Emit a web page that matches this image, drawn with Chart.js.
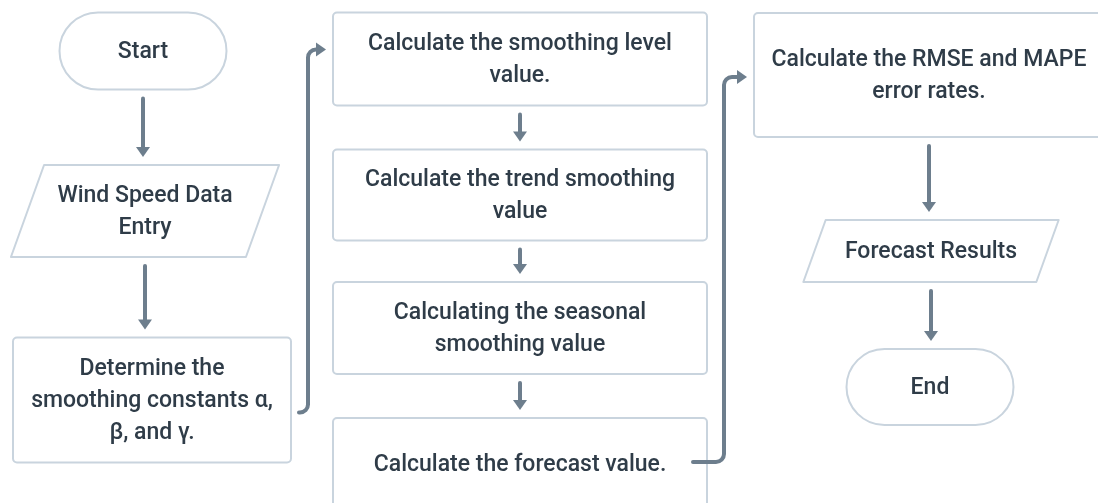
<!DOCTYPE html>
<html>
<head>
<meta charset="utf-8">
<script src="https://cdn.jsdelivr.net/npm/chart.js@4.4.1/dist/chart.umd.min.js"></script>
<style>
  html, body { margin: 0; padding: 0; background: #ffffff; }
  #flow { display: block; }
</style>
</head>
<body>
<canvas id="flow" width="1098" height="503"></canvas>
<script>
// flowchart steps
var nodeText = [
  ["Start"],
  ["Wind Speed Data", "Entry"],
  ["Determine the", "smoothing constants α,", "β, and γ."],
  ["Calculate the smoothing level", "value."],
  ["Calculate the trend smoothing", "value"],
  ["Calculating the seasonal", "smoothing value"],
  ["Calculate the forecast value."],
  ["Calculate the RMSE and MAPE", "error rates."],
  ["Forecast Results"],
  ["End"]
];
var nodeShape = ["terminal", "io", "process", "process", "process", "process", "process", "process", "io", "terminal"];
var nodeX = [143, 145, 152, 520, 520, 520, 520, 929, 931, 930];
var nodeY = [51, 211, 400, 59, 195, 328, 464, 75, 251, 387];
var nodeW = [167, 235, 278, 374, 374, 374, 374, 350, 233, 167];
var nodeH = [77, 92, 125, 93, 91, 92, 92, 124, 62, 76];

// straight arrows (from -> to) and elbow connectors (from -> to)
var arrowFrom = [0, 1, 3, 4, 5, 7, 8];
var arrowTo   = [1, 2, 4, 5, 6, 8, 9];
var elbowFrom = [2, 6];
var elbowTo   = [3, 7];

var lineColor = "#6d7e8d";
var boxColor = "#c9d4de";
var textColor = "#2f3c48";

function nodeBox(i, xs, ys) {
  var cx = xs.getPixelForValue(nodeX[i]), cy = ys.getPixelForValue(nodeY[i]);
  var w = xs.getPixelForValue(nodeX[i] + nodeW[i] / 2) - cx;
  var h = ys.getPixelForValue(nodeY[i] + nodeH[i] / 2) - cy;
  return { cx: cx, cy: cy, l: cx - w, r: cx + w, t: cy - h, b: cy + h, w: w * 2, h: h * 2 };
}

function roundRect(ctx, l, t, w, h, r) {
  ctx.beginPath();
  ctx.moveTo(l + r, t);
  ctx.arcTo(l + w, t, l + w, t + h, r);
  ctx.arcTo(l + w, t + h, l, t + h, r);
  ctx.arcTo(l, t + h, l, t, r);
  ctx.arcTo(l, t, l + w, t, r);
  ctx.closePath();
}

function head(ctx, x, y, dir) {
  ctx.beginPath();
  if (dir === "down") {
    ctx.moveTo(x - 7, y - 10); ctx.lineTo(x + 7, y - 10); ctx.lineTo(x, y);
  } else {
    ctx.moveTo(x - 10, y - 7); ctx.lineTo(x - 10, y + 7); ctx.lineTo(x, y);
  }
  ctx.closePath();
  ctx.fill();
}

var flowPlugin = {
  id: "flow",
  afterDatasetsDraw: function(chart) {
    var ctx = chart.ctx, xs = chart.scales.x, ys = chart.scales.y;
    ctx.save();

    // shapes
    ctx.lineWidth = 2;
    ctx.lineJoin = "round";
    ctx.strokeStyle = boxColor;
    ctx.fillStyle = "#ffffff";
    nodeText.forEach(function(lines, i) {
      var b = nodeBox(i, xs, ys);
      if (nodeShape[i] === "terminal") {
        roundRect(ctx, b.l, b.t, b.w, b.h, b.h / 2);
      } else if (nodeShape[i] === "io") {
        var sk = b.h * 0.36;
        ctx.beginPath();
        ctx.moveTo(b.l + sk / 2, b.t);
        ctx.lineTo(b.r + sk / 2, b.t);
        ctx.lineTo(b.r - sk / 2, b.b);
        ctx.lineTo(b.l - sk / 2, b.b);
        ctx.closePath();
      } else {
        roundRect(ctx, b.l, b.t, b.w, b.h, 4);
      }
      ctx.fill();
      ctx.stroke();
    });

    // straight arrows
    ctx.strokeStyle = lineColor;
    ctx.fillStyle = lineColor;
    ctx.lineWidth = 4;
    ctx.lineCap = "round";
    arrowFrom.forEach(function(f, k) {
      var a = nodeBox(f, xs, ys), c = nodeBox(arrowTo[k], xs, ys);
      var x = a.cx, y0 = a.b + 9, y1 = c.t - 8;
      ctx.beginPath();
      ctx.moveTo(x, y0); ctx.lineTo(x, y1 - 8);
      ctx.stroke();
      head(ctx, x, y1, "down");
    });

    // elbow connectors
    elbowFrom.forEach(function(f, k) {
      var a = nodeBox(f, xs, ys), c = nodeBox(elbowTo[k], xs, ys);
      var sx = k === 0 ? a.r + 8 : a.r - 14;
      var sy = k === 0 ? a.b - 50 : a.cy - 2;
      var lane = a.r + 17;
      var ty = k === 0 ? c.t + 37 : c.cy + 2;
      var tx = c.l - 7;
      ctx.beginPath();
      ctx.moveTo(sx, sy);
      ctx.arcTo(lane, sy, lane, ty, 8);
      ctx.arcTo(lane, ty, tx, ty, 8);
      ctx.lineTo(tx - 8, ty);
      ctx.stroke();
      head(ctx, tx, ty, "right");
    });

    // labels
    ctx.fillStyle = textColor;
    ctx.font = "500 23px Roboto";
    ctx.textAlign = "center";
    ctx.textBaseline = "middle";
    nodeText.forEach(function(lines, i) {
      var b = nodeBox(i, xs, ys);
      var lh = 32, y0 = b.cy - (lines.length - 1) * lh / 2 + 1;
      lines.forEach(function(s, j) { ctx.fillText(s, b.cx, y0 + j * lh); });
    });
    ctx.restore();
  }
};

var points = nodeX.map(function(x, i) { return { x: x, y: nodeY[i] }; });

new Chart(document.getElementById("flow").getContext("2d"), {
  type: "scatter",
  data: { datasets: [{ data: points, pointRadius: 0 }] },
  options: {
    responsive: false,
    animation: false,
    layout: { padding: 0 },
    plugins: { legend: { display: false }, tooltip: { enabled: false } },
    scales: {
      x: { type: "linear", min: 0, max: 1098, display: false },
      y: { type: "linear", min: 0, max: 503, reverse: true, display: false }
    }
  },
  plugins: [flowPlugin]
});
</script>
</body>
</html>
